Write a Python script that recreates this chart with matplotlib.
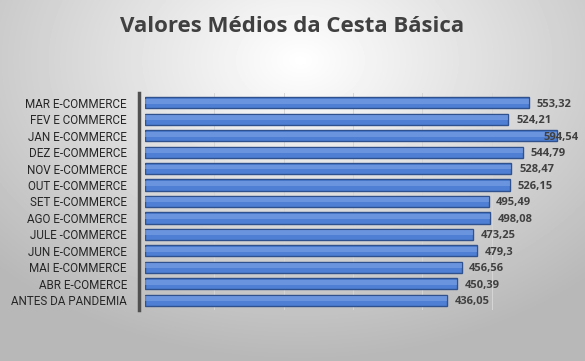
import numpy as np
import matplotlib.pyplot as plt

categories = ["ANTES DA PANDEMIA", "ABR E-COMERCE", "MAI E-COMMERCE", "JUN E-COMMERCE",
              "JULE -COMMERCE", "AGO E-COMMERCE", "SET E-COMMERCE", "OUT E-COMMERCE",
              "NOV E-COMMERCE", "DEZ E-COMMERCE", "JAN E-COMMERCE", "FEV E COMMERCE",
              "MAR E-COMMERCE"]
values = [436.05, 450.39, 456.56, 479.3, 473.25, 498.08, 495.49, 526.15,
          528.47, 544.79, 594.54, 524.21, 553.32]
value_labels = ["436,05", "450,39", "456,56", "479,3", "473,25", "498,08", "495,49",
                "526,15", "528,47", "544,79", "594,54", "524,21", "553,32"]

plt.rcParams['font.family'] = ['Open Sans', 'DejaVu Sans']

fig = plt.figure(figsize=(5.85, 3.61), dpi=100)

# gray radial gradient background
bg = fig.add_axes([0, 0, 1, 1], zorder=-10)
yy, xx = np.mgrid[0:361, 0:585]
r = np.sqrt(((xx - 300) / 420.0) ** 2 + ((yy - 60) / 300.0) ** 2)
shade = np.clip(1.0 - 0.28 * r, 0.72, 1.0)
bg.imshow(shade, cmap='gray', vmin=0, vmax=1, aspect='auto', extent=[0, 1, 0, 1])
bg.axis('off')

ax = fig.add_axes([145 / 585, 1 - 310 / 361, (561 - 145) / 585, (310 - 93) / 361])
ax.patch.set_alpha(0)
y = np.arange(len(categories))
ax.barh(y, values, height=0.68, color='#4f7fd4', edgecolor='#2f528f', linewidth=1.0, zorder=3)
# lighter top half for the bevelled look
ax.barh(y + 0.1, values, height=0.3, left=0, color='#7fa3e6', linewidth=0, alpha=0.6, zorder=3.5)
for yi, v, lab in zip(y, values, value_labels):
    ax.text(min(v + 11, 575), yi - 0.08, lab, va='center', ha='left', fontsize=8,
            fontweight='bold', color='#404040', zorder=4)

ax.set_xlim(0, 600)
ax.set_ylim(-0.6, len(categories) - 0.4)
ax.set_yticks(y)
ax.set_yticklabels(categories)
ax.set_xticks([100, 200, 300, 400, 500])
ax.tick_params(axis='x', length=0, labelbottom=False)
ax.tick_params(axis='y', length=0, pad=9)
ax.grid(axis='x', color='#d6d6d6', linewidth=0.7, zorder=0)
for s in ['top', 'right', 'bottom']:
    ax.spines[s].set_visible(False)
ax.spines['left'].set_color('#505050')
ax.spines['left'].set_linewidth(2.5)
ax.spines['left'].set_position(('outward', 4))
for t in ax.get_yticklabels():
    t.set_fontfamily(['Liberation Sans Narrow', 'Roboto', 'DejaVu Sans'])
    t.set_fontsize(8.4)
    t.set_color('#262626')

fig.text(0.5, 1 - 27 / 361, "Valores Médios da Cesta Básica", ha='center', va='center',
         fontsize=16, fontweight='bold', color='#404040')

fig.savefig('out.png', dpi=100)
